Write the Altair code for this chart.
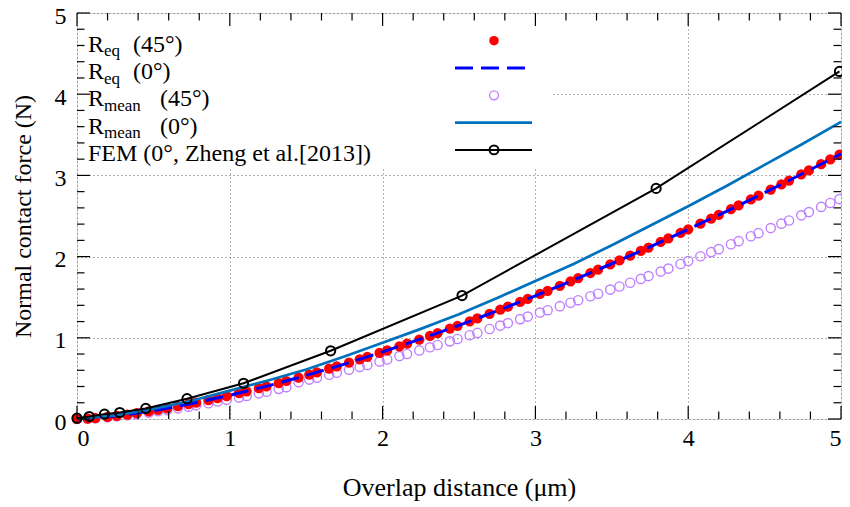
import altair as alt
import pandas as pd

# ---------------- data ----------------
scatter_x = [0.00, 0.07, 0.12, 0.20, 0.26, 0.33, 0.39, 0.47, 0.53, 0.59,
             0.66, 0.73, 0.78, 0.86, 0.92, 0.98, 1.06, 1.11, 1.19, 1.24,
             1.32, 1.37, 1.45, 1.52, 1.57, 1.65, 1.70, 1.78, 1.85, 1.90,
             1.98, 2.03, 2.11, 2.16, 2.24, 2.31, 2.36, 2.44, 2.49, 2.57,
             2.62, 2.70, 2.77, 2.82, 2.90, 2.95, 3.03, 3.08, 3.16, 3.23,
             3.28, 3.36, 3.41, 3.49, 3.55, 3.62, 3.69, 3.74, 3.82, 3.87,
             3.95, 4.00, 4.08, 4.15, 4.20, 4.28, 4.33, 4.41, 4.46, 4.54,
             4.61, 4.66, 4.74, 4.79, 4.87, 4.93, 4.99]

req_45 = [0.000, 0.005, 0.012, 0.026, 0.039, 0.055, 0.071, 0.094, 0.113, 0.132,
          0.157, 0.182, 0.201, 0.233, 0.258, 0.283, 0.319, 0.341, 0.379, 0.403,
          0.443, 0.468, 0.510, 0.547, 0.574, 0.619, 0.647, 0.693, 0.735, 0.765,
          0.814, 0.845, 0.895, 0.927, 0.979, 1.025, 1.059, 1.113, 1.147, 1.203,
          1.238, 1.295, 1.346, 1.383, 1.442, 1.480, 1.540, 1.578, 1.640, 1.695,
          1.735, 1.798, 1.839, 1.904, 1.953, 2.011, 2.070, 2.112, 2.180, 2.223,
          2.292, 2.336, 2.406, 2.469, 2.513, 2.586, 2.631, 2.704, 2.750, 2.825,
          2.890, 2.937, 3.013, 3.061, 3.138, 3.196, 3.255]

rmean_45 = [0.000, 0.005, 0.010, 0.022, 0.033, 0.046, 0.060, 0.078, 0.095, 0.110,
            0.131, 0.152, 0.168, 0.194, 0.215, 0.236, 0.266, 0.284, 0.316, 0.336,
            0.371, 0.392, 0.454, 0.485, 0.508, 0.545, 0.569, 0.607, 0.641, 0.666,
            0.707, 0.733, 0.775, 0.801, 0.845, 0.883, 0.911, 0.956, 0.985, 1.031,
            1.060, 1.108, 1.150, 1.181, 1.230, 1.261, 1.311, 1.340, 1.390, 1.432,
            1.463, 1.512, 1.543, 1.594, 1.632, 1.678, 1.725, 1.760, 1.816, 1.852,
            1.909, 1.946, 2.004, 2.055, 2.092, 2.152, 2.190, 2.251, 2.289, 2.351,
            2.406, 2.445, 2.508, 2.548, 2.612, 2.660, 2.708]

line_x = [0.00, 0.25, 0.50, 0.75, 1.00, 1.25, 1.50, 1.75, 2.00, 2.25, 2.50,
          2.75, 3.00, 3.25, 3.50, 3.75, 4.00, 4.25, 4.50, 4.75, 5.00]
req_0 = [0.000, 0.036, 0.103, 0.190, 0.292, 0.408, 0.536, 0.676, 0.826, 0.986, 1.154,
         1.332, 1.517, 1.711, 1.912, 2.121, 2.336, 2.558, 2.787, 3.023, 3.265]
rmean_0 = [0.000, 0.045, 0.125, 0.225, 0.350, 0.475, 0.610, 0.770, 0.940, 1.110, 1.290,
           1.490, 1.700, 1.910, 2.140, 2.380, 2.620, 2.870, 3.130, 3.390, 3.660]

fem_x = [0.00, 0.08, 0.18, 0.28, 0.45, 0.72, 1.09, 1.66, 2.52, 3.79, 4.99]
fem_y = [0.01, 0.03, 0.06, 0.08, 0.13, 0.25, 0.44, 0.84, 1.52, 2.84, 4.28]

major_ticks = [0, 1, 2, 3, 4, 5]
minor_ticks = [0.2, 0.4, 0.6, 0.8, 1.2, 1.4, 1.6, 1.8, 2.2, 2.4, 2.6, 2.8,
               3.2, 3.4, 3.6, 3.8, 4.2, 4.4, 4.6, 4.8]

legend_main = ["R", "R", "R", "R", "FEM (0°, Zheng et al.[2013])"]
legend_sub = ["eq", "eq", "mean", "mean", ""]
legend_rest = ["(45°)", "(0°)", "(45°)", "(0°)", ""]

x_title = "Overlap distance (μm)"
y_title = "Normal contact force (N)"

# ---------------- styling ----------------
FONT = "Liberation Serif"
W, H = 764, 406
RED = "#ff0000"
DBLUE = "#0000ff"
PURPLE = "#bf80ff"
MBLUE = "#0072bd"

xscale = alt.Scale(domain=[0, 5], nice=False, zero=False)
yscale = alt.Scale(domain=[0, 5], nice=False, zero=False)
xaxis = alt.Axis(values=major_ticks, ticks=False, domain=False, grid=True,
                 gridDash=[1, 3], gridColor="#666666", gridWidth=1,
                 labelFont=FONT, labelFontSize=24, labelColor="black",
                 labelPadding=7, format="d",
                 titleFont=FONT, titleFontSize=26, titleFontWeight="normal",
                 titleColor="black", titlePadding=24)
yaxis = alt.Axis(values=major_ticks, ticks=False, domain=False, grid=True,
                 gridDash=[1, 3], gridColor="#666666", gridWidth=1,
                 labelFont=FONT, labelFontSize=24, labelColor="black",
                 labelPadding=11, labelOffset=3, format="d",
                 titleFont=FONT, titleFontSize=24, titleFontWeight="normal",
                 titleColor="black", titlePadding=19)


def X(field="x"):
    return alt.X(f"{field}:Q", scale=xscale, axis=xaxis, title=x_title)


def Y(field="y"):
    return alt.Y(f"{field}:Q", scale=yscale, axis=yaxis, title=y_title)


scatter_df = pd.DataFrame({"x": scatter_x, "req45": req_45, "rmean45": rmean_45})
line_df = pd.DataFrame({"x": line_x, "req0": req_0, "rmean0": rmean_0})
fem_df = pd.DataFrame({"x": fem_x, "y": fem_y})
dummy = pd.DataFrame({"a": [0]})

layers = []

# data layers
layers.append(alt.Chart(scatter_df).mark_point(shape="circle", filled=False, color=PURPLE,
                                               size=85, strokeWidth=1.4, opacity=1)
              .encode(x=X(), y=Y("rmean45")))
layers.append(alt.Chart(scatter_df).mark_circle(color=RED, size=105, opacity=1)
              .encode(x=X(), y=Y("req45")))
layers.append(alt.Chart(line_df).mark_line(color=DBLUE, strokeWidth=3, strokeDash=[18, 8])
              .encode(x=X(), y=Y("req0")))
layers.append(alt.Chart(line_df).mark_line(color=MBLUE, strokeWidth=2.7)
              .encode(x=X(), y=Y("rmean0")))
layers.append(alt.Chart(fem_df).mark_line(color="black", strokeWidth=2)
              .encode(x=X(), y=Y()))
layers.append(alt.Chart(fem_df).mark_point(shape="circle", filled=False, color="black",
                                           size=85, strokeWidth=2, opacity=1)
              .encode(x=X(), y=Y()))

# legend box
layers.append(alt.Chart(dummy).mark_rect(fill="white")
              .encode(x=alt.value(1), x2=alt.value(476), y=alt.value(1), y2=alt.value(155)))

# inward ticks on all four sides
maj_df = pd.DataFrame({"x": major_ticks, "y": major_ticks})
min_df = pd.DataFrame({"x": minor_ticks, "y": minor_ticks})
for df, ln in ((maj_df, 13), (min_df, 7.5)):
    layers.append(alt.Chart(df).mark_rule(color="black", strokeWidth=1.2)
                  .encode(x=X(), y=alt.value(H), y2=alt.value(H - ln)))
    layers.append(alt.Chart(df).mark_rule(color="black", strokeWidth=1.2)
                  .encode(x=X(), y=alt.value(0), y2=alt.value(ln)))
    layers.append(alt.Chart(df).mark_rule(color="black", strokeWidth=1.2)
                  .encode(y=Y(), x=alt.value(0), x2=alt.value(ln)))
    layers.append(alt.Chart(df).mark_rule(color="black", strokeWidth=1.2)
                  .encode(y=Y(), x=alt.value(W), x2=alt.value(W - ln)))

# legend entries
row0, drow = 27.7, 27.3
for i in range(5):
    ry = row0 + drow * i
    base = ry + 11
    layers.append(alt.Chart(dummy).mark_text(align="left", baseline="alphabetic", font=FONT,
                                             fontSize=24, color="black")
                  .encode(x=alt.value(11), y=alt.value(base), text=alt.value(legend_main[i])))
    if legend_sub[i]:
        layers.append(alt.Chart(dummy).mark_text(align="left", baseline="alphabetic", font=FONT,
                                                 fontSize=17, color="black")
                      .encode(x=alt.value(27), y=alt.value(base + 4.5), text=alt.value(legend_sub[i])))
        rx = 56 if legend_sub[i] == "eq" else 83
        layers.append(alt.Chart(dummy).mark_text(align="left", baseline="alphabetic", font=FONT,
                                                 fontSize=24, color="black")
                      .encode(x=alt.value(rx), y=alt.value(base), text=alt.value(legend_rest[i])))

ys = [row0 + drow * i for i in range(5)]
layers.append(alt.Chart(dummy).mark_circle(color=RED, size=90, opacity=1)
              .encode(x=alt.value(417), y=alt.value(ys[0])))
layers.append(alt.Chart(dummy).mark_rule(color=DBLUE, strokeWidth=3, strokeDash=[18, 8])
              .encode(x=alt.value(378), x2=alt.value(449), y=alt.value(ys[1])))
layers.append(alt.Chart(dummy).mark_point(shape="circle", filled=False, color=PURPLE,
                                          size=80, strokeWidth=1.4, opacity=1)
              .encode(x=alt.value(417), y=alt.value(ys[2])))
layers.append(alt.Chart(dummy).mark_rule(color=MBLUE, strokeWidth=2.7)
              .encode(x=alt.value(378), x2=alt.value(455), y=alt.value(ys[3])))
layers.append(alt.Chart(dummy).mark_rule(color="black", strokeWidth=2)
              .encode(x=alt.value(378), x2=alt.value(455), y=alt.value(ys[4])))
layers.append(alt.Chart(dummy).mark_point(shape="circle", filled=False, color="black",
                                          size=80, strokeWidth=2, opacity=1)
              .encode(x=alt.value(417), y=alt.value(ys[4])))

chart = alt.layer(*layers).properties(
    width=W, height=H,
    autosize=alt.AutoSizeParams(type="none"),
    padding={"left": 69, "top": 5, "right": 1, "bottom": 86},
).configure_view(stroke="black", strokeWidth=1.5, fill="white").configure(background="white")

chart.save("out.html", embed_options={"renderer": "svg", "actions": False})
